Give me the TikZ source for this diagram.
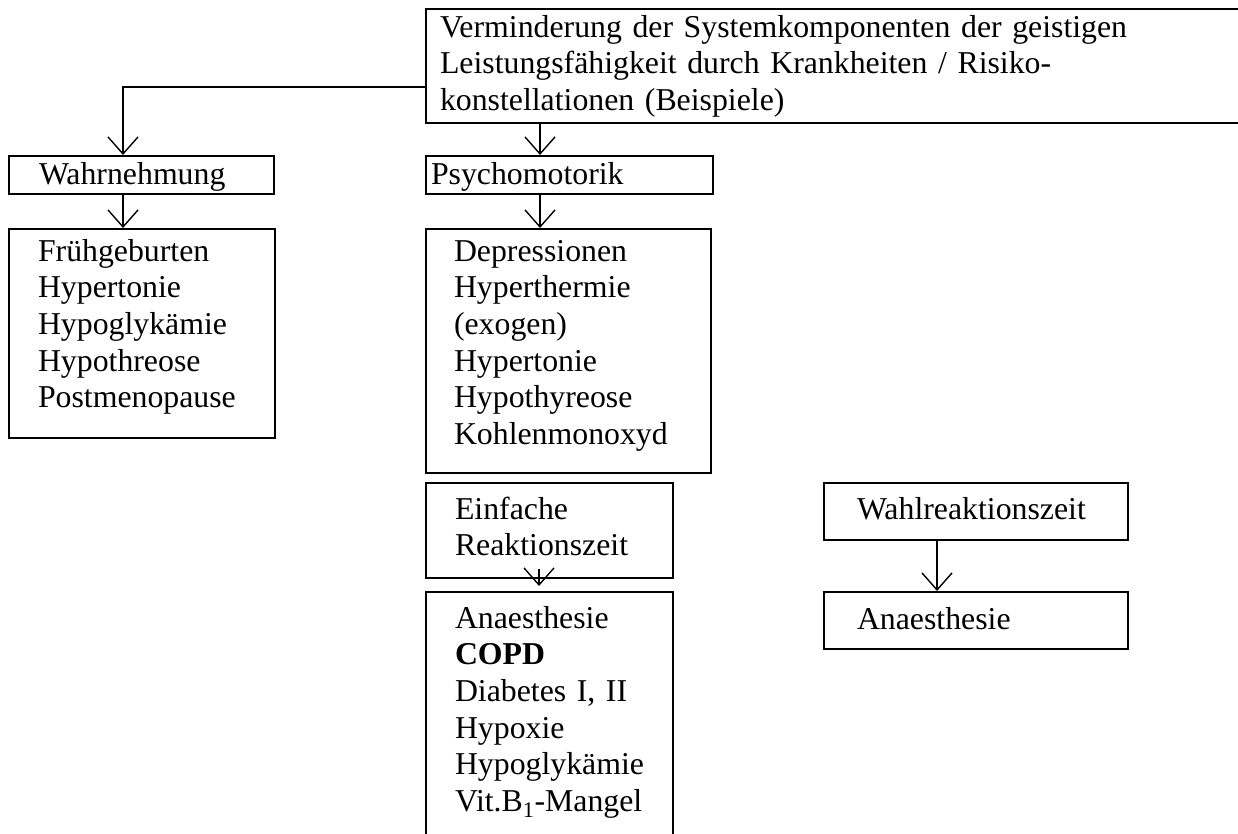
\documentclass[tikz,border=0pt]{standalone}
\usepackage{fontspec}
\setmainfont{Liberation Serif}
\usetikzlibrary{arrows.meta}

\begin{document}
\begin{tikzpicture}[x=1pt,y=-1pt,
  kasten/.style={draw,line width=2pt,anchor=north west,align=left,inner ysep=0pt,
    font={\fontsize{31.8}{36.7}\selectfont\hyphenpenalty=10000}},
  pfeil/.style={line width=1.4pt,-{Straight Barb[length=17pt,width=30pt]}}]
  \useasboundingbox (0,0) rectangle (1238,833);
  \clip (0,0) rectangle (1238,833);
  \node[kasten,inner xsep=14pt,text width=872pt,text height=28pt,text depth=86pt] (oben) at (425,8)
    {Verminderung der Systemkomponenten der geistigen\\Leistungsfähigkeit durch Krankheiten / Risiko-\\konstellationen (Beispiele)};
  \node[kasten,inner xsep=30pt,text width=205pt,text height=28pt,text depth=10pt] (wahr) at (8,155) {Wahrnehmung};
  \node[kasten,inner xsep=5pt,text width=277pt,text height=28pt,text depth=10pt] (psycho) at (425,155) {Psychomotorik};
  \node[kasten,inner xsep=29pt,text width=208pt,text height=32pt,text depth=177pt] (frueh) at (8,228)
    {Frühgeburten\\Hypertonie\\Hypoglykämie\\Hypothreose\\Postmenopause};
  \node[kasten,inner xsep=28pt,text width=229pt,text height=32pt,text depth=212pt] (depr) at (425,228)
    {Depressionen\\Hyperthermie\\(exogen)\\Hypertonie\\Hypothyreose\\Kohlenmonoxyd};
  \node[kasten,inner xsep=29pt,text width=189pt,text height=36pt,text depth=59pt] (einfach) at (425,482)
    {Einfache\\Reaktionszeit};
  \node[kasten,inner xsep=29pt,text width=189pt,text height=36pt,text depth=273pt] (anaesA) at (425,591)
    {Anaesthesie\\\textbf{COPD}\\Diabetes I, II\\Hypoxie\\Hypoglykämie\\Vit.B\textsubscript{1}-Mangel};
  \node[kasten,inner xsep=33pt,text width=238pt,text height=36pt,text depth=21pt] (wahl) at (823,482) {Wahlreaktionszeit};
  \node[kasten,inner xsep=33pt,text width=238pt,text height=37pt,text depth=20pt] (anaesB) at (823,591) {Anaesthesie};
  \draw[pfeil] ([yshift=37pt]oben.south west) -| ([xshift=115pt]wahr.north west);
  \draw[pfeil] ([xshift=115pt]oben.south west) -- ([xshift=115pt]psycho.north west);
  \draw[pfeil] ([xshift=115pt]wahr.south west) -- ([xshift=115pt]frueh.north west);
  \draw[pfeil] ([xshift=115pt]psycho.south west) -- ([xshift=115pt]depr.north west);
  \draw[pfeil] ([xshift=114pt,yshift=10pt]einfach.south west) -- ([xshift=114pt,yshift=5pt]anaesA.north west);
  \draw[pfeil] ([xshift=114pt]wahl.south west) -- ([xshift=114pt]anaesB.north west);
\end{tikzpicture}
\end{document}
